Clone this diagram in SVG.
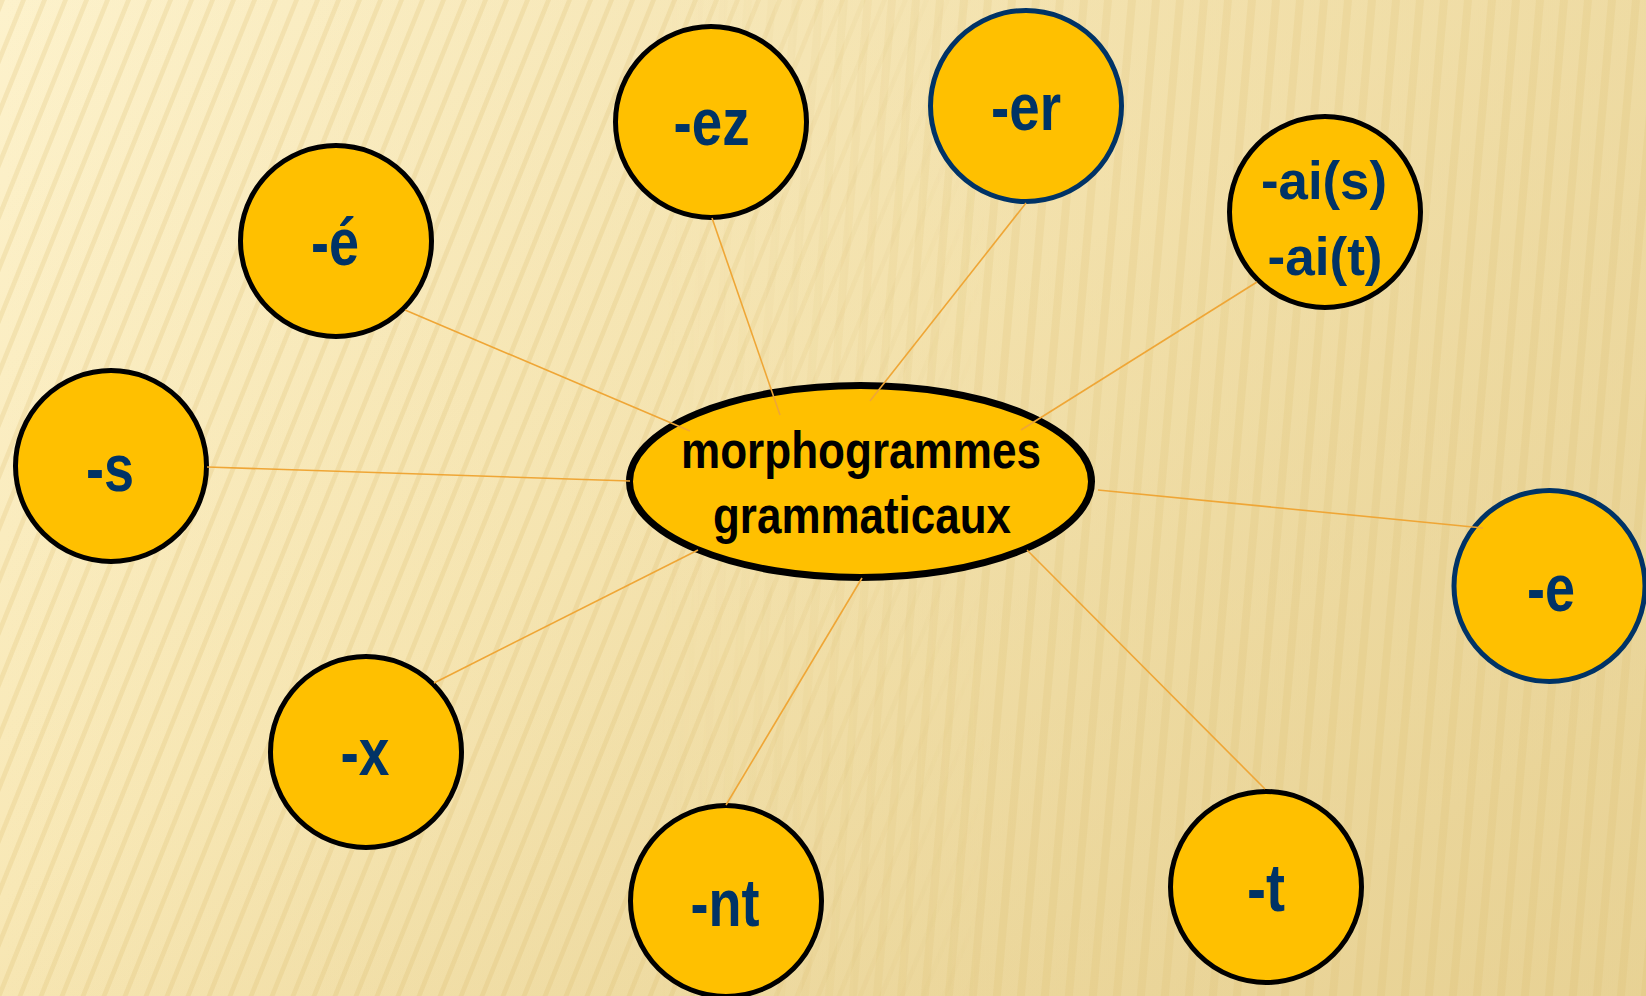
<svg xmlns="http://www.w3.org/2000/svg" width="1646" height="996" viewBox="0 0 1646 996">
  <defs>
    <linearGradient id="bg" x1="0" y1="0" x2="1" y2="1">
      <stop offset="0" stop-color="#fdf2cc"/>
      <stop offset="0.45" stop-color="#f8e8b6"/>
      <stop offset="1" stop-color="#e6cf8e"/>
    </linearGradient>
    <linearGradient id="bgR" x1="0" y1="0" x2="1" y2="0">
      <stop offset="0" stop-color="#e9d499" stop-opacity="0"/>
      <stop offset="1" stop-color="#e9d499" stop-opacity="0.6"/>
    </linearGradient>
    <pattern id="stripesL" width="21" height="40" patternUnits="userSpaceOnUse" patternTransform="skewX(-22)">
      <rect x="0" y="0" width="5" height="40" fill="#d8b65e" opacity="0.2"/>
    </pattern>
    <pattern id="stripesR" width="24" height="40" patternUnits="userSpaceOnUse" patternTransform="skewX(-5)">
      <rect x="0" y="0" width="8" height="40" fill="#d8b65e" opacity="0.15"/>
    </pattern>
    <linearGradient id="fadeL" x1="0" y1="0" x2="1" y2="0">
      <stop offset="0" stop-color="#fff" stop-opacity="1"/>
      <stop offset="0.4" stop-color="#fff" stop-opacity="1"/>
      <stop offset="0.6" stop-color="#fff" stop-opacity="0"/>
    </linearGradient>
    <linearGradient id="fadeR" x1="0" y1="0" x2="1" y2="0">
      <stop offset="0.4" stop-color="#fff" stop-opacity="0"/>
      <stop offset="0.6" stop-color="#fff" stop-opacity="1"/>
    </linearGradient>
    <mask id="mL"><rect width="1646" height="996" fill="url(#fadeL)"/></mask>
    <mask id="mR"><rect width="1646" height="996" fill="url(#fadeR)"/></mask>
    <style>
      .conn { stroke: #efa636; stroke-width: 1.6; fill: none; }
      .bub { fill: #ffc000; stroke: #000; stroke-width: 5; }
      .bub.blue { stroke: #003366; }
      .lbl { font-family: "Liberation Sans", Arial, sans-serif; font-weight: bold; font-size: 67px; fill: #003366; text-anchor: middle; }
      .lbl2 { font-size: 53px; }
      .main { font-family: "Liberation Sans", Arial, sans-serif; font-weight: bold; font-size: 52px; fill: #000; text-anchor: middle; }
    </style>
  </defs>

  <g id="background">
    <rect width="1646" height="996" fill="url(#bg)"/>
    <rect width="1646" height="996" fill="url(#bgR)"/>
    <rect width="1646" height="996" fill="url(#stripesL)" mask="url(#mL)"/>
    <rect width="1646" height="996" fill="url(#stripesR)" mask="url(#mR)"/>
  </g>

  <g id="center">
    <ellipse cx="860.5" cy="481.5" rx="231" ry="96" fill="#ffc000" stroke="#000" stroke-width="7"/>
    <text class="main" x="861" y="468" textLength="360" lengthAdjust="spacingAndGlyphs">morphogrammes</text>
    <text class="main" x="862" y="533" textLength="298" lengthAdjust="spacingAndGlyphs">grammaticaux</text>
  </g>

  <g id="node-e-acute">
    <circle class="bub" cx="336" cy="241" r="95.5"/>
    <text class="lbl" x="335" y="265" textLength="48" lengthAdjust="spacingAndGlyphs">-é</text>
  </g>
  <g id="node-ez">
    <circle class="bub" cx="711" cy="122" r="95.5"/>
    <text class="lbl" x="711.5" y="145" textLength="76" lengthAdjust="spacingAndGlyphs">-ez</text>
  </g>
  <g id="node-er">
    <circle class="bub blue" cx="1026" cy="106" r="95.5"/>
    <text class="lbl" x="1026" y="130" textLength="70" lengthAdjust="spacingAndGlyphs">-er</text>
  </g>
  <g id="node-ai">
    <circle class="bub" cx="1325" cy="212" r="95.5"/>
    <text class="lbl lbl2" x="1324" y="199" textLength="126" lengthAdjust="spacingAndGlyphs">-ai(s)</text>
    <text class="lbl lbl2" x="1325" y="275" textLength="115" lengthAdjust="spacingAndGlyphs">-ai(t)</text>
  </g>
  <g id="node-s">
    <circle class="bub" cx="111" cy="466" r="95.5"/>
    <text class="lbl" x="110" y="491" textLength="48" lengthAdjust="spacingAndGlyphs">-s</text>
  </g>
  <g id="node-e">
    <circle class="bub blue" cx="1549.5" cy="586" r="95.5"/>
    <text class="lbl" x="1551" y="611" textLength="48" lengthAdjust="spacingAndGlyphs">-e</text>
  </g>
  <g id="node-x">
    <circle class="bub" cx="366" cy="752" r="95.5"/>
    <text class="lbl" x="365" y="775" textLength="49" lengthAdjust="spacingAndGlyphs">-x</text>
  </g>
  <g id="node-nt">
    <circle class="bub" cx="726" cy="901" r="95.5"/>
    <text class="lbl" x="725" y="926" textLength="69" lengthAdjust="spacingAndGlyphs">-nt</text>
  </g>
  <g id="node-t">
    <circle class="bub" cx="1266" cy="887" r="95.5"/>
    <text class="lbl" x="1266" y="911" textLength="38" lengthAdjust="spacingAndGlyphs">-t</text>
  </g>

  <g id="connectors">
    <line class="conn" x1="405" y1="310" x2="690" y2="431"/>
    <line class="conn" x1="712" y1="218" x2="780" y2="415"/>
    <line class="conn" x1="1026" y1="203" x2="870" y2="401"/>
    <line class="conn" x1="1257" y1="282" x2="1021" y2="430"/>
    <line class="conn" x1="207" y1="467" x2="630" y2="481"/>
    <line class="conn" x1="1098" y1="490" x2="1483" y2="528"/>
    <line class="conn" x1="434" y1="683" x2="698" y2="550"/>
    <line class="conn" x1="726" y1="805" x2="862" y2="578"/>
    <line class="conn" x1="1265" y1="789" x2="1027" y2="550"/>
  </g>
</svg>
